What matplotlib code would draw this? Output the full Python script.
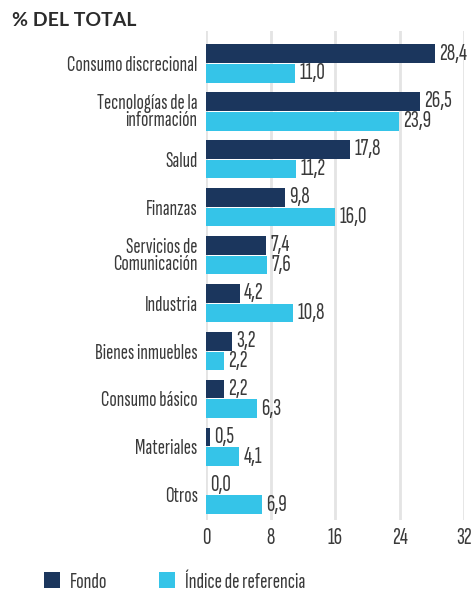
import matplotlib
matplotlib.use("Agg")
import matplotlib.pyplot as plt
from matplotlib import font_manager
import numpy as np

categories = ["Consumo discrecional", "Tecnologías de la\ninformación", "Salud", "Finanzas",
              "Servicios de\nComunicación", "Industria", "Bienes inmuebles", "Consumo básico",
              "Materiales", "Otros"]
fondo = [28.4, 26.5, 17.8, 9.8, 7.4, 4.2, 3.2, 2.2, 0.5, 0.0]
indice = [11.0, 23.9, 11.2, 16.0, 7.6, 10.8, 2.2, 6.3, 4.1, 6.9]
series_names = ["Fondo", "Índice de referencia"]
xticks = [0, 8, 16, 24, 32]

navy = "#1b365d"
cyan = "#35c4e8"
txt = "#3a3a3a"

installed = {f.name for f in font_manager.fontManager.ttflist}


def pick(*fams):
    for f in fams:
        if f in installed:
            return f
    return "DejaVu Sans"


narrow = pick("Sofia Sans Extra Condensed", "Roboto Condensed", "Archivo Narrow")
head = pick("Lato", "DejaVu Sans")
plt.rcParams['font.family'] = [narrow, "DejaVu Sans"]
plt.rcParams['font.weight'] = "light"

fig = plt.figure(figsize=(4.71, 5.92), dpi=100)
ax = fig.add_axes([0.4374, 0.122, 0.548, 0.826])

y = np.arange(len(categories))
h = 0.39
b1 = ax.barh(y - 0.205, fondo, height=h, color=navy, label=series_names[0], zorder=3)
b2 = ax.barh(y + 0.205, indice, height=h, color=cyan, label=series_names[1], zorder=3)

for bars, vals in ((b1, fondo), (b2, indice)):
    for bar, v in zip(bars, vals):
        ax.text(v + 0.55, bar.get_y() + bar.get_height() / 2, f"{v:.1f}".replace(".", ","),
                va="center", ha="left", fontsize=17, color=txt, zorder=4)

ax.set_xlim(0, 32)
ax.set_ylim(len(categories) - 0.5 + 0.02, -0.5 - 0.18)
ax.set_xticks(xticks)
ax.set_xticklabels([str(t) for t in xticks], fontsize=17, color=txt)
ax.set_yticks(y)
ax.set_yticklabels(categories, fontsize=15.5, color=txt, linespacing=0.85)
ax.tick_params(axis="both", length=0)
ax.tick_params(axis="y", pad=6)
ax.tick_params(axis="x", pad=5)
for s in ax.spines.values():
    s.set_visible(False)
ax.grid(axis="x", color="#e4e4e4", linewidth=2, zorder=0)
ax.set_axisbelow(True)

fig.text(0.025, 0.965, "% DEL TOTAL", fontsize=14, fontweight="bold", color="#2b2b2b",
         family=[head, "DejaVu Sans"], va="center", ha="left")

fig.legend(handles=[b1, b2], loc="center left", bbox_to_anchor=(0.05, 0.017), ncol=2,
           frameon=False, fontsize=16, handlelength=0.75, handleheight=0.75,
           columnspacing=2.3, handletextpad=0.45, labelcolor=txt)

fig.savefig("out.png", dpi=100)
